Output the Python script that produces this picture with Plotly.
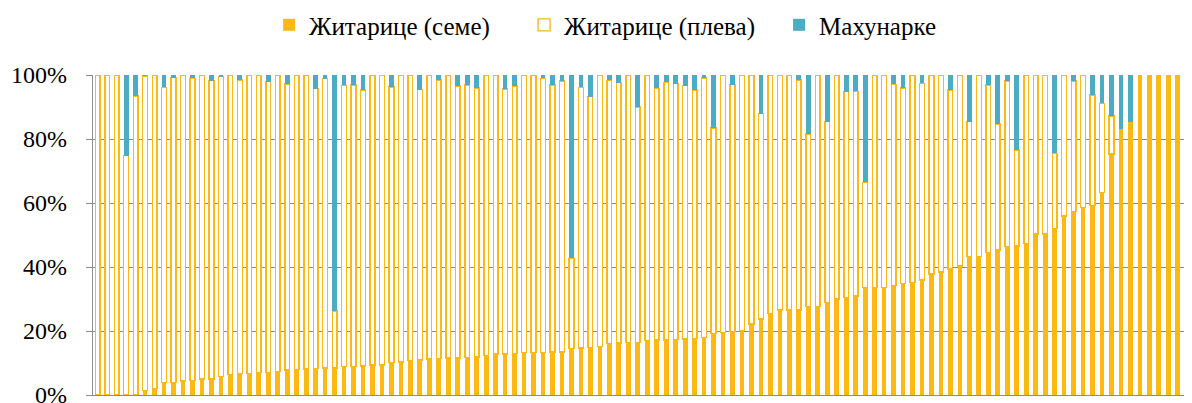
import plotly.graph_objects as go

# farm index (116 farms, sorted by seed share)
categories = [str(i) for i in range(1, 117)]

# share of cereal seed (%)
seed = [
    0, 0, 0, 0, 0, 1.5, 2.1, 4.0, 4.0, 4.4,
    4.5, 5.0, 5.0, 5.7, 6.5, 6.7, 6.7, 7.1, 7.1, 7.3,
    7.8, 8.0, 8.1, 8.3, 8.5, 8.5, 8.9, 8.9, 9.1, 9.4,
    9.4, 10.1, 10.3, 10.7, 10.9, 11.25, 11.5, 11.6, 11.6, 11.8,
    11.9, 12.4, 12.8, 12.8, 13.0, 13.2, 13.2, 13.3, 13.5, 13.5,
    14.6, 14.7, 14.8, 15.1, 16.1, 16.25, 16.35, 16.4, 17.0, 17.2,
    17.2, 17.4, 17.5, 17.7, 18.0, 19.3, 19.5, 19.8, 20.1, 22.2,
    23.75, 25.4, 26.6, 26.6, 26.6, 27.6, 27.6, 29.0, 30.0, 30.4,
    31.0, 33.6, 33.6, 33.6, 34.2, 34.9, 35.1, 35.9, 37.8, 38.5,
    39.4, 40.3, 43.2, 43.2, 44.5, 45.3, 46.4, 46.6, 47.4, 50.3,
    50.3, 52.1, 56.0, 57.3, 58.6, 59.2, 63.2, 75.3, 83.1, 85.4,
    100, 100, 100, 100, 100, 100,
]

# share of cereal chaff (%)
chaff = [
    100, 100, 100, 74.8, 93.4, 98.2, 97.9, 92.1, 95.2, 95.6,
    94.5, 95.0, 93.2, 93.8, 93.5, 91.7, 93.3, 92.9, 90.8, 92.7,
    89.4, 92.0, 91.9, 87.4, 90.4, 17.75, 87.9, 88.0, 86.2, 90.6,
    90.6, 86.15, 89.7, 89.3, 84.5, 88.75, 86.9, 88.4, 85.0, 85.1,
    84.0, 87.6, 87.2, 82.8, 83.6, 86.8, 86.8, 85.7, 83.4, 84.6,
    28.1, 81.4, 78.4, 84.9, 82.2, 81.35, 83.65, 73.6, 83.0, 78.6,
    80.5, 79.9, 79.2, 77.6, 81.1, 64.2, 80.5, 77.2, 79.9, 77.8,
    64.15, 74.6, 73.4, 73.4, 71.8, 54.0, 72.4, 56.4, 70.0, 64.4,
    63.9, 32.9, 66.4, 66.4, 62.9, 61.1, 64.9, 61.5, 62.2, 61.5,
    55.9, 59.7, 42.2, 56.8, 52.4, 39.4, 51.7, 30.0, 52.6, 49.7,
    49.7, 23.4, 44.0, 40.8, 41.4, 34.55, 27.9, 11.9, 0, 0,
    0, 0, 0, 0, 0, 0,
]

# share of legumes (%)
legumes = [
    0, 0, 0, 25.2, 6.6, 0.3, 0, 3.9, 0.8, 0,
    1.0, 0, 1.8, 0.5, 0, 1.6, 0, 0, 2.1, 0,
    2.8, 0, 0, 4.3, 1.1, 73.75, 3.2, 3.1, 4.7, 0,
    0, 3.75, 0, 0, 4.6, 0, 1.6, 0, 3.4, 3.1,
    4.1, 0, 0, 4.4, 3.4, 0, 0, 1.0, 3.1, 1.9,
    57.3, 3.9, 6.8, 0, 1.7, 2.4, 0, 10.0, 0, 4.2,
    2.3, 2.7, 3.3, 4.7, 0.9, 16.5, 0, 3.0, 0, 0,
    12.1, 0, 0, 0, 1.6, 18.4, 0, 14.6, 0, 5.2,
    5.1, 33.5, 0, 0, 2.9, 4.0, 0, 2.6, 0, 0,
    4.7, 0, 14.6, 0, 3.1, 15.3, 1.9, 23.4, 0, 0,
    0, 24.5, 0, 1.9, 0, 6.25, 8.9, 12.8, 16.9, 14.6,
    0, 0, 0, 0, 0, 0,
]

series_names = ["Житарице (семе)", "Житарице (плева)", "Махунарке"]
y_ticks = [0, 20, 40, 60, 80, 100]
y_tick_labels = ["0%", "20%", "40%", "60%", "80%", "100%"]

ORANGE = "#FDB813"
BLUE = "#4BACC6"
FONT = "Times New Roman"

fig = go.Figure()
fig.add_trace(go.Bar(x=categories, y=seed, name=series_names[0],
                     marker=dict(color=ORANGE, line=dict(width=0))))
fig.add_trace(go.Bar(x=categories, y=chaff, name=series_names[1],
                     marker=dict(color="white", line=dict(color=ORANGE, width=1.4))))
fig.add_trace(go.Bar(x=categories, y=legumes, name=series_names[2],
                     marker=dict(color=BLUE, line=dict(width=0))))

# the page body adds an 8px offset; the figure is sized to fit the window
fig.update_layout(
    width=1184, height=395,
    margin=dict(l=85, r=0, t=67, b=8, autoexpand=False),
    barmode="stack", bargap=0.5,
    plot_bgcolor="white", paper_bgcolor="white",
    font=dict(family=FONT, size=22, color="black"),
    showlegend=True,
    legend=dict(orientation="h", xref="container", yref="paper",
                x=0.2205, xanchor="left", y=1.156, yanchor="middle",
                font=dict(family=FONT, size=25), traceorder="normal",
                itemwidth=30, entrywidth=210),
)
fig.update_xaxes(type="category", showticklabels=False, ticks="", automargin=False,
                 showgrid=False, showline=True, linecolor="#8c8c8c", linewidth=1.3)
fig.update_yaxes(range=[0, 100], tickvals=y_ticks, ticktext=y_tick_labels,
                 automargin=False, ticklabeloverflow="allow",
                 showgrid=True, gridcolor="#8c8c8c", gridwidth=1.3,
                 showline=True, linecolor="#8c8c8c", linewidth=1.3,
                 ticks="outside", ticklen=6, tickcolor="#8c8c8c", tickwidth=1.3,
                 ticklabelstandoff=14, zeroline=False,
                 tickfont=dict(family=FONT, size=24, color="black"))

fig.write_html("out.html")
